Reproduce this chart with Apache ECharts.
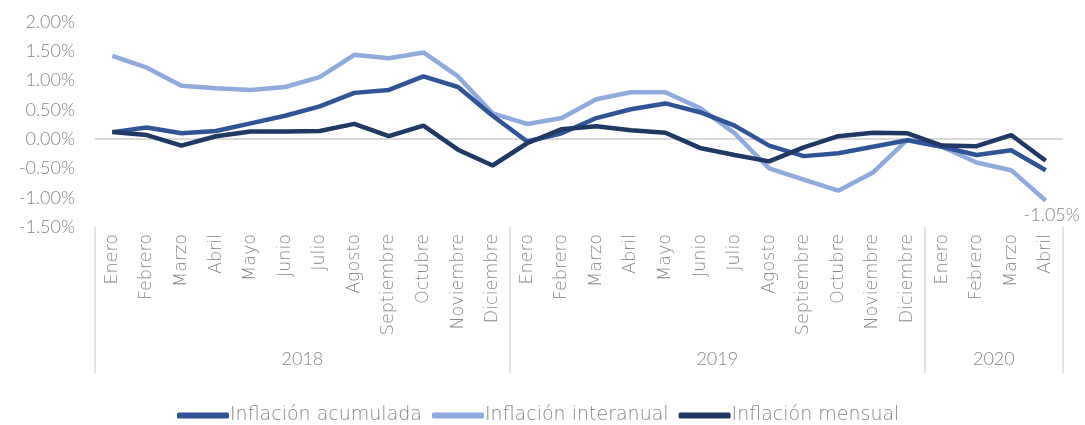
<!DOCTYPE html>
<html>
<head>
<meta charset="utf-8">
<style>
    html, body { margin: 0; padding: 0; background: #fff; }
    #chart { width: 1085px; height: 425px; }
</style>
<script src="https://cdn.jsdelivr.net/npm/echarts@6/dist/echarts.min.js"></script>
</head>
<body>
<div id="chart"></div>
<script>
// 数据
var months = ["Enero", "Febrero", "Marzo", "Abril", "Mayo", "Junio", "Julio", "Agosto",
    "Septiembre", "Octubre", "Noviembre", "Diciembre"];
var years = ["2018", "2019", "2020"];
var monthsPerYear = [12, 12, 4];
var yTicks = [-1.5, -1.0, -0.5, 0, 0.5, 1.0, 1.5, 2.0];

var acumulada = [0.12, 0.20, 0.10, 0.14, 0.27, 0.40, 0.56, 0.79, 0.84, 1.07, 0.89, 0.40,
    -0.04, 0.10, 0.36, 0.51, 0.61, 0.46, 0.23, -0.11, -0.29, -0.24, -0.13, -0.02,
    -0.13, -0.27, -0.19, -0.53];
var interanual = [1.42, 1.22, 0.91, 0.87, 0.84, 0.89, 1.06, 1.44, 1.38, 1.48, 1.07, 0.44,
    0.26, 0.36, 0.68, 0.80, 0.80, 0.53, 0.10, -0.50, -0.69, -0.88, -0.57, -0.01,
    -0.13, -0.40, -0.53, -1.05];
var mensual = [0.12, 0.07, -0.11, 0.05, 0.13, 0.13, 0.14, 0.26, 0.05, 0.23, -0.18, -0.45,
    -0.07, 0.17, 0.22, 0.15, 0.11, -0.15, -0.27, -0.38, -0.14, 0.05, 0.11, 0.10,
    -0.11, -0.12, 0.07, -0.37];

(function () {
    var myChart = echarts.init(document.getElementById("chart"));
    var gray = "#858585";
    var numFont = "Lato";
    var textFont = "DejaVu Sans";

    // 月份 + 年份分组
    var cats = [];
    var yearBounds = [0];
    var yearMids = [];
    var pos = 0;
    for (var i = 0; i < years.length; i++) {
        for (var j = 0; j < monthsPerYear[i]; j++) {
            cats.push(months[j]);
        }
        yearMids.push(pos + monthsPerYear[i] / 2);
        pos += monthsPerYear[i];
        yearBounds.push(pos);
    }

    // 最后一个点显示数据标签
    var interData = interanual.map(function (v, idx) {
        if (idx === interanual.length - 1) {
            return {
                value: v,
                label: {
                    show: true,
                    position: "bottom",
                    distance: 5,
                    offset: [6, 0],
                    color: gray,
                    fontFamily: numFont,
                    fontWeight: 300,
                    fontSize: 18,
                    formatter: function (p) { return p.value.toFixed(2) + "%"; }
                }
            };
        }
        return v;
    });

    var lineBase = {
        type: "line",
        symbol: "circle",
        symbolSize: 0.1,
        showSymbol: true,
        showAllSymbol: true,
        smooth: false,
        xAxisIndex: 0,
        label: { show: false }
    };

    var option = {
        animation: false,
        color: ["#2f5597", "#8faadc", "#203864"],
        grid: {
            left: 95,
            right: 22,
            top: 22,
            bottom: 198
        },
        legend: {
            bottom: -5,
            left: 172,
            icon: "roundRect",
            itemWidth: 52,
            itemHeight: 6,
            itemGap: 10,
            textStyle: {
                color: gray,
                fontFamily: textFont,
                fontWeight: 200,
                fontSize: 19,
                padding: [0, 0, 0, -4]
            },
            data: ["Inflación acumulada", "Inflación interanual", "Inflación mensual"]
        },
        xAxis: [
            {
                type: "category",
                data: cats,
                position: "bottom",
                axisLine: { show: false, onZero: false },
                axisTick: { show: false },
                axisLabel: {
                    rotate: 90,
                    interval: 0,
                    margin: 7,
                    color: gray,
                    fontFamily: textFont,
                    fontWeight: 200,
                    fontSize: 17.5
                }
            },
            {
                type: "value",
                min: 0,
                max: cats.length,
                position: "bottom",
                axisLine: { show: false, onZero: false },
                splitLine: { show: false },
                axisTick: {
                    show: true,
                    length: 146,
                    customValues: yearBounds,
                    lineStyle: { color: "#d9d9d9", width: 1.5 }
                },
                axisLabel: {
                    customValues: yearMids,
                    margin: 123,
                    color: gray,
                    fontFamily: numFont,
                    fontWeight: 300,
                    fontSize: 18,
                    formatter: function (v) {
                        return years[yearMids.indexOf(v)];
                    }
                }
            }
        ],
        yAxis: {
            type: "value",
            min: yTicks[0],
            max: yTicks[yTicks.length - 1],
            interval: 0.5,
            axisLine: { show: false },
            axisTick: { show: false },
            splitLine: { show: false },
            axisLabel: {
                margin: 20,
                color: gray,
                fontFamily: numFont,
                fontWeight: 300,
                fontSize: 18,
                formatter: function (v) { return v.toFixed(2) + "%"; }
            }
        },
        series: [
            Object.assign({}, lineBase, {
                name: "Inflación acumulada",
                data: acumulada,
                z: 3,
                lineStyle: { width: 4.5, color: "#2f5597" },
                markLine: {
                    silent: true,
                    symbol: "none",
                    label: { show: false },
                    lineStyle: { color: "#d9d9d9", width: 2, type: "solid" },
                    z: 1,
                    data: [{ yAxis: 0 }]
                }
            }),
            Object.assign({}, lineBase, {
                name: "Inflación interanual",
                data: interData,
                z: 2,
                lineStyle: { width: 4.5, color: "#8faadc" }
            }),
            Object.assign({}, lineBase, {
                name: "Inflación mensual",
                data: mensual,
                z: 4,
                lineStyle: { width: 4.5, color: "#203864" }
            })
        ]
    };

    myChart.setOption(option);
    window.addEventListener("resize", function () {
        myChart.resize();
    });
})();
</script>
</body>
</html>
